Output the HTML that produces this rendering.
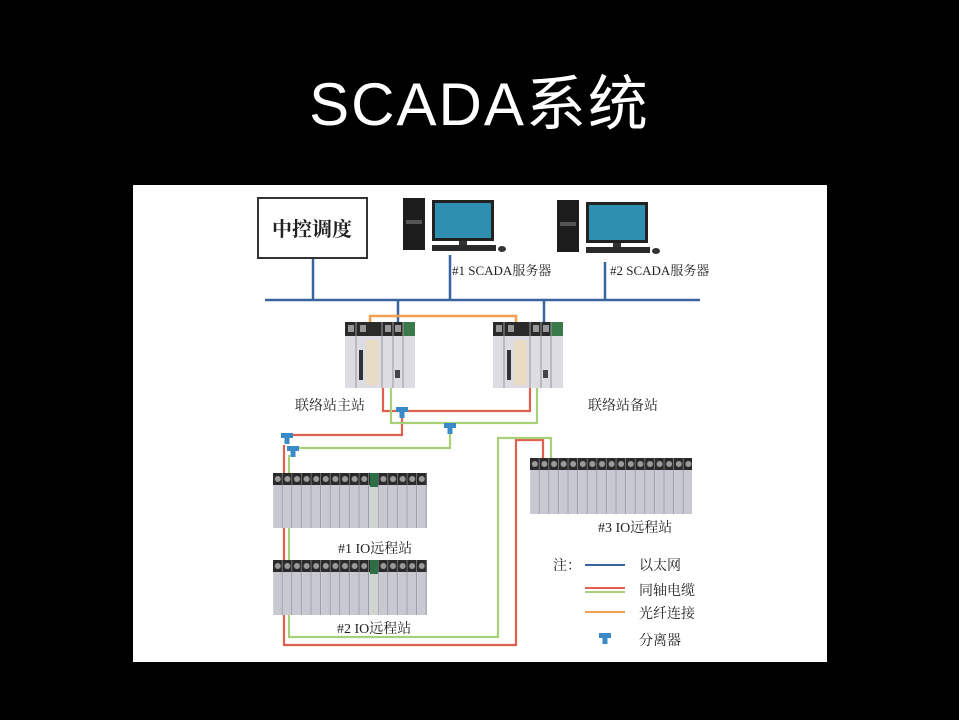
<!DOCTYPE html>
<html><head><meta charset="utf-8"><style>
html,body{margin:0;padding:0;background:#000;width:959px;height:720px;overflow:hidden}
.t{position:absolute;left:0;width:959px;top:56px;text-align:center;color:#fff;font:60px "Liberation Sans","Noto Sans CJK SC",sans-serif;letter-spacing:2px}
svg{position:absolute;left:0;top:0}
text{font-family:"Liberation Serif","Noto Serif CJK SC",serif;fill:#222}
</style></head><body>
<div class="t">SCADA系统</div>
<svg width="959" height="720" viewBox="0 0 959 720">
<defs>
<g id="mod">
<rect x="0" y="0" width="9.6" height="60" fill="#d4d4dc"/>
<rect x="0.6" y="12" width="8.4" height="48" fill="#c8c8d2"/>
<rect x="0" y="0" width="9.6" height="12" fill="#2a2a2a"/>
<circle cx="4.8" cy="6" r="3" fill="#9a9a9a"/>
<line x1="9.3" y1="0" x2="9.3" y2="60" stroke="#8a8a92" stroke-width="0.8"/>
</g>
<pattern id="io1" x="273" y="473" width="9.6" height="60" patternUnits="userSpaceOnUse"><use href="#mod"/></pattern>
<pattern id="io2" x="273" y="560" width="9.6" height="60" patternUnits="userSpaceOnUse"><use href="#mod"/></pattern>
<pattern id="io3" x="530" y="458" width="9.6" height="60" patternUnits="userSpaceOnUse"><use href="#mod"/></pattern>
<g id="pc">
<rect x="0" y="0" width="22" height="52" fill="#1d1d1d"/>
<rect x="3" y="22" width="16" height="4" fill="#555"/>
<rect x="29" y="2" width="62" height="41" fill="#222"/>
<rect x="32" y="5" width="56" height="35" fill="#2f8fb0"/>
<rect x="56" y="43" width="8" height="5" fill="#333"/>
<rect x="29" y="47" width="64" height="6" fill="#2a2a2a"/>
<ellipse cx="99" cy="51" rx="4" ry="3" fill="#333"/>
</g>
<g id="cpu">
<rect x="0" y="0" width="70" height="66" fill="#dcdce2"/>
<rect x="0" y="0" width="58" height="14" fill="#2a2a2a"/>
<rect x="58" y="0" width="12" height="14" fill="#3a7a4a"/>
<rect x="3" y="3" width="6" height="7" fill="#999"/><rect x="15" y="3" width="6" height="7" fill="#999"/>
<rect x="40" y="3" width="6" height="7" fill="#999"/><rect x="50" y="3" width="6" height="7" fill="#999"/>
<rect x="21" y="18" width="13" height="45" fill="#e8dcc4"/>
<rect x="14" y="28" width="4" height="30" fill="#333"/>
<line x1="11" y1="0" x2="11" y2="66" stroke="#999"/>
<line x1="37" y1="0" x2="37" y2="66" stroke="#999"/>
<line x1="48" y1="0" x2="48" y2="66" stroke="#999"/>
<line x1="58" y1="0" x2="58" y2="66" stroke="#999"/>
<rect x="50" y="48" width="5" height="8" fill="#444"/>
</g>
<g id="sp"><rect x="-6" y="-4" width="12" height="5" fill="#3a8ac8"/><rect x="-2.5" y="0" width="5" height="7" fill="#3a8ac8"/></g>
</defs>
<rect x="133" y="185" width="694" height="477" fill="#fff"/>
<g stroke="#3a64a0" stroke-width="2.5" fill="none">
<line x1="265" y1="300" x2="700" y2="300"/>
<line x1="313" y1="258" x2="313" y2="300"/>
<line x1="450" y1="255" x2="450" y2="300"/>
<line x1="605" y1="262" x2="605" y2="300"/>
<line x1="398" y1="300" x2="398" y2="324"/>
<line x1="544" y1="300" x2="544" y2="324"/>
</g>
<rect x="258" y="198" width="109" height="60" fill="#fff" stroke="#333" stroke-width="2"/>
<text x="312" y="236" font-size="20" text-anchor="middle" font-weight="bold" font-family="Noto Sans CJK SC,sans-serif">中控调度</text>
<use href="#pc" x="403" y="198"/>
<use href="#pc" x="557" y="200"/>
<text x="452" y="275" font-size="13">#1 SCADA服务器</text>
<text x="610" y="275" font-size="13">#2 SCADA服务器</text>
<polyline points="370,324 370,316 516,316 516,324" stroke="#f0a050" stroke-width="2.5" fill="none"/>
<use href="#cpu" x="345" y="322"/>
<use href="#cpu" x="493" y="322"/>
<text x="295" y="410" font-size="14">联络站主站</text>
<text x="588" y="410" font-size="14">联络站备站</text>
<g stroke="#e06050" stroke-width="2.2" fill="none">
<polyline points="383,388 383,411 530,411 530,388"/>
<polyline points="402,411 402,435 287,435"/>
<polyline points="284,445 284,560"/>
<polyline points="284,615 284,645 516,645 516,440 543,440 543,458"/>
</g>
<g stroke="#a8d078" stroke-width="2.2" fill="none">
<polyline points="391,388 391,423 537,423 537,388"/>
<polyline points="450,423 450,448 293,448"/>
<polyline points="289,455 289,473"/>
<polyline points="289,528 289,560"/>
<polyline points="289,615 289,637 498,637 498,438 551,438 551,458"/>
</g>
<use href="#sp" x="402" y="411"/>
<use href="#sp" x="450" y="427"/>
<use href="#sp" x="287" y="437"/>
<use href="#sp" x="293" y="450"/>
<rect x="273" y="473" width="154" height="55" fill="url(#io1)"/>
<rect x="370" y="473" width="8" height="55" fill="#cfd6cf"/><rect x="370" y="473" width="8" height="14" fill="#2e6e44"/>
<rect x="273" y="560" width="154" height="55" fill="url(#io2)"/>
<rect x="370" y="560" width="8" height="55" fill="#cfd6cf"/><rect x="370" y="560" width="8" height="14" fill="#2e6e44"/>
<rect x="530" y="458" width="162" height="56" fill="url(#io3)"/>
<text x="338" y="553" font-size="14">#1 IO远程站</text>
<text x="337" y="633" font-size="14">#2 IO远程站</text>
<text x="598" y="532" font-size="14">#3 IO远程站</text>
<text x="553" y="570" font-size="14">注：</text>
<line x1="585" y1="565" x2="625" y2="565" stroke="#3a64a0" stroke-width="2"/>
<text x="639" y="570" font-size="14">以太网</text>
<line x1="585" y1="588" x2="625" y2="588" stroke="#e06050" stroke-width="2"/>
<line x1="585" y1="592" x2="625" y2="592" stroke="#a8d078" stroke-width="2"/>
<text x="639" y="595" font-size="14">同轴电缆</text>
<line x1="585" y1="612" x2="625" y2="612" stroke="#f0a050" stroke-width="2"/>
<text x="639" y="618" font-size="14">光纤连接</text>
<use href="#sp" x="605" y="637"/>
<text x="639" y="645" font-size="14">分离器</text>
</svg>
</body></html>
